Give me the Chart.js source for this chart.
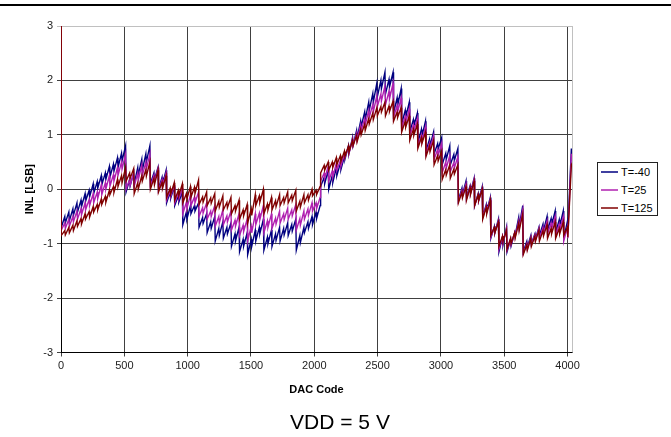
<!DOCTYPE html>
<html>
<head>
<meta charset="utf-8">
<script src="https://cdn.jsdelivr.net/npm/chart.js@4.4.1/dist/chart.umd.min.js"></script>
<style>
  html, body { margin: 0; padding: 0; background: #fff; }
  body { width: 671px; height: 437px; position: relative; overflow: hidden; font-family: "Liberation Sans", Arial, sans-serif; }
  #topline { position: absolute; left: 0; top: 4px; width: 671px; height: 2px; background: #000; }
  #wrap { position: absolute; left: 0; top: 0; width: 671px; height: 437px; }
  #legend { position: absolute; left: 597px; top: 162px; width: 61px; height: 54px; border: 1px solid #222; box-sizing: border-box; background: #fff; }
  .item { position: absolute; left: 3px; height: 14px; font-size: 11px; line-height: 14px; color: #000; white-space: nowrap; }
  .item span.sw { display: inline-block; width: 17px; height: 0; border-top: 2px solid; vertical-align: middle; margin-right: 3px; position: relative; top: -1px; opacity: 0.75; }
  #vdd { position: absolute; left: 0; width: 680px; top: 410px; text-align: center; font-size: 21px; color: #000; }
</style>
</head>
<body>
<div id="topline"></div>
<div id="wrap"><canvas id="c" width="671" height="437"></canvas></div>
<div id="legend"></div>
<div id="vdd">VDD = 5 V</div>
<script>
// ---- data ----
const seriesNames = ['T=-40', 'T=25', 'T=125'];
const startValue = [3.2, 3.2, 3.2];          // value at code 0 (spike off the top)
// each 64-code tooth: lo at its start, a small sub-tooth (midHi then midLo) in its middle, hi at its end
const toothStart = [0,64,128,192,256,320,384,448,512,576,640,704,768,832,896,960,1024,1088,1152,1216,1280,1344,1408,1472,1536,1600,1664,1728,1792,1856,1920,1984,2048,2112,2176,2240,2304,2368,2432,2496,2560,2624,2688,2752,2816,2880,2944,3008,3072,3136,3200,3264,3328,3392,3456,3520,3584,3648,3712,3776,3840,3904,3968,4032];
const xTicks = [0,500,1000,1500,2000,2500,3000,3500,4000];
const yTicks = [-3,-2,-1,0,1,2,3];

const blueLo = [-0.70,-0.58,-0.42,-0.22,-0.08,0.08,0.22,0.40, -0.05,0.10,0.35,0.10,0.00,-0.25,-0.30,-0.65, -0.45,-0.70,-0.80,-0.95,-0.90,-1.05,-1.15,-1.20,-0.95,-1.12,-1.05,-0.95,-0.85,-1.12,-0.80,-0.65, 0.05,0.00,0.25,0.55,0.80,1.15,1.45,1.70, 1.75,1.40,1.20,1.05,0.85,0.70,0.65,0.45, 0.45,-0.20,-0.15,-0.30,-0.50,-0.90,-1.15,-1.15, -0.85,-1.15,-1.00,-0.85,-0.75,-0.80,-0.90,0.60];
const blueMidHi = [-0.50,-0.36,-0.20,-0.02,0.14,0.30,0.46,0.66, 0.18,0.40,0.65,0.30,0.22,-0.05,-0.12,-0.42, -0.30,-0.52,-0.60,-0.72,-0.70,-0.82,-0.92,-0.92,-0.70,-0.88,-0.82,-0.72,-0.65,-0.85,-0.60,-0.42, 0.22,0.25,0.48,0.80,1.08,1.42,1.76,2.00, 2.02,1.68,1.45,1.28,1.10,0.92,0.84,0.66, 0.64,0.02,0.06,-0.08,-0.28,-0.68,-0.88,-0.92, -0.52,-0.96,-0.82,-0.64,-0.54,-0.56,-0.60,0.75];
const blueMidLo = [-0.62,-0.48,-0.32,-0.14,0.02,0.18,0.33,0.52, 0.06,0.26,0.50,0.18,0.10,-0.17,-0.24,-0.55, -0.40,-0.63,-0.72,-0.85,-0.82,-0.95,-1.05,-1.05,-0.82,-1.00,-0.94,-0.84,-0.77,-0.98,-0.72,-0.54, 0.10,0.12,0.36,0.66,0.94,1.28,1.60,1.85, 1.88,1.54,1.32,1.16,0.97,0.80,0.74,0.55, 0.53,-0.10,-0.06,-0.20,-0.40,-0.80,-1.02,-1.04, -0.68,-1.07,-0.92,-0.76,-0.66,-0.68,-0.75,0.65];
const blueHi = [-0.42,-0.25,-0.08,0.10,0.25,0.42,0.58,0.80, 0.30,0.55,0.80,0.40,0.35,0.05,-0.05,-0.30, -0.25,-0.45,-0.50,-0.60,-0.62,-0.70,-0.80,-0.75,-0.55,-0.75,-0.70,-0.62,-0.55,-0.70,-0.50,-0.30, 0.35,0.40,0.60,0.95,1.25,1.60,1.95,2.15, 2.15,1.85,1.60,1.40,1.25,1.05,0.95,0.80, 0.75,0.15,0.20,0.05,-0.15,-0.55,-0.70,-0.80, -0.30,-0.85,-0.70,-0.50,-0.40,-0.40,0.75,0.90];

const purpleLo = [-0.75,-0.68,-0.55,-0.38,-0.25,-0.10,0.05,0.25, 0.00,0.05,0.25,0.05,-0.02,-0.20,-0.25,-0.45, -0.30,-0.50,-0.55,-0.68,-0.65,-0.75,-0.85,-0.95,-0.65,-0.80,-0.72,-0.62,-0.55,-0.75,-0.55,-0.40, 0.15,0.15,0.35,0.58,0.80,1.08,1.32,1.52, 1.55,1.32,1.12,0.98,0.80,0.65,0.55,0.30, 0.32,-0.22,-0.18,-0.30,-0.52,-0.88,-1.10,-1.12, -0.88,-1.18,-1.02,-0.90,-0.82,-0.85,-0.95,0.55];
const purpleMidHi = [-0.62,-0.50,-0.36,-0.19,-0.05,0.12,0.27,0.50, 0.18,0.30,0.50,0.26,0.18,-0.02,-0.07,-0.24, -0.14,-0.34,-0.40,-0.50,-0.49,-0.57,-0.66,-0.68,-0.44,-0.58,-0.53,-0.45,-0.38,-0.54,-0.36,-0.25, 0.30,0.34,0.53,0.78,1.03,1.30,1.56,1.75, 1.80,1.54,1.34,1.18,1.00,0.85,0.73,0.50, 0.49,-0.02,0.04,-0.10,-0.31,-0.70,-0.87,-0.92, -0.58,-1.00,-0.84,-0.70,-0.62,-0.64,-0.70,0.72];
const purpleMidLo = [-0.72,-0.60,-0.47,-0.30,-0.17,0.00,0.15,0.37, 0.07,0.17,0.37,0.14,0.06,-0.13,-0.18,-0.36, -0.25,-0.44,-0.50,-0.62,-0.60,-0.68,-0.78,-0.80,-0.56,-0.70,-0.64,-0.56,-0.49,-0.66,-0.48,-0.36, 0.20,0.22,0.42,0.66,0.90,1.18,1.42,1.62, 1.66,1.42,1.22,1.07,0.88,0.74,0.62,0.39, 0.39,-0.13,-0.08,-0.21,-0.42,-0.80,-0.99,-1.02, -0.72,-1.10,-0.94,-0.81,-0.73,-0.75,-0.90,0.62];
const purpleHi = [-0.55,-0.40,-0.25,-0.08,0.08,0.25,0.40,0.65, 0.30,0.45,0.65,0.38,0.30,0.08,0.02,-0.10, -0.05,-0.25,-0.30,-0.38,-0.40,-0.45,-0.55,-0.45,-0.30,-0.45,-0.40,-0.35,-0.28,-0.40,-0.25,-0.15, 0.42,0.48,0.65,0.92,1.18,1.45,1.72,1.90, 1.95,1.68,1.48,1.30,1.15,0.98,0.85,0.62, 0.60,0.10,0.18,0.02,-0.18,-0.58,-0.72,-0.80, -0.38,-0.88,-0.72,-0.58,-0.50,-0.50,0.65,0.85];

const redLo = [-0.85,-0.80,-0.68,-0.55,-0.42,-0.28,-0.10,0.05, 0.15,-0.08,0.15,0.00,-0.05,-0.15,-0.20,-0.25, -0.15,-0.28,-0.30,-0.40,-0.38,-0.45,-0.55,-0.62,-0.30,-0.45,-0.38,-0.30,-0.25,-0.40,-0.25,-0.12, 0.30,0.35,0.45,0.60,0.80,1.00,1.20,1.35, 1.35,1.25,1.05,0.90,0.75,0.60,0.45,0.18, 0.20,-0.25,-0.20,-0.30,-0.55,-0.85,-1.05,-1.10, -0.90,-1.20,-1.05,-0.95,-0.90,-0.90,-0.85,0.45];
const redMidHi = [-0.76,-0.66,-0.54,-0.41,-0.28,-0.13,0.05,0.25, 0.30,0.12,0.36,0.20,0.13,0.02,-0.02,-0.08, 0.04,-0.14,-0.16,-0.22,-0.24,-0.30,-0.38,-0.36,-0.12,-0.27,-0.21,-0.15,-0.11,-0.22,-0.10,-0.02, 0.44,0.50,0.62,0.80,0.99,1.20,1.40,1.52, 1.53,1.42,1.25,1.10,0.95,0.80,0.62,0.36, 0.37,-0.05,0.03,-0.10,-0.33,-0.70,-0.86,-0.90, -0.62,-1.02,-0.86,-0.76,-0.72,-0.72,-0.70,0.60];
const redMidLo = [-0.84,-0.76,-0.64,-0.51,-0.38,-0.24,-0.06,0.12, 0.20,0.00,0.24,0.08,0.02,-0.09,-0.12,-0.18, -0.08,-0.24,-0.26,-0.33,-0.34,-0.40,-0.49,-0.48,-0.24,-0.38,-0.32,-0.25,-0.21,-0.33,-0.20,-0.10, 0.35,0.40,0.51,0.68,0.87,1.08,1.28,1.42, 1.43,1.32,1.14,0.99,0.84,0.69,0.52,0.26, 0.28,-0.16,-0.09,-0.21,-0.45,-0.80,-0.96,-1.00, -0.76,-1.12,-0.96,-0.86,-0.82,-0.82,-0.88,0.52];
const redHi = [-0.70,-0.58,-0.45,-0.32,-0.18,-0.02,0.18,0.40, 0.38,0.25,0.50,0.35,0.25,0.12,0.10,0.05, 0.17,-0.05,-0.08,-0.12,-0.15,-0.20,-0.28,-0.10,0.00,-0.15,-0.10,-0.05,-0.02,-0.10,0.00,0.05, 0.50,0.58,0.70,0.90,1.10,1.30,1.50,1.60, 1.62,1.50,1.35,1.20,1.05,0.90,0.70,0.45, 0.45,0.05,0.15,0.00,-0.20,-0.60,-0.75,-0.80, -0.45,-0.90,-0.75,-0.65,-0.60,-0.60,0.45,0.70];

// ---- build point lists from the arrays ----
function build(first, lo, mh, ml, hi) {
  const pts = [{x: 0, y: first}];
  for (let k = 0; k < toothStart.length; k++) {
    const s = toothStart[k];
    pts.push({x: s + 2, y: lo[k]});
    pts.push({x: s + 30, y: mh[k]});
    pts.push({x: s + 34, y: ml[k]});
    pts.push({x: s + 62, y: hi[k]});
  }
  return pts;
}
const colors = ['#000080', '#b020b0', '#800000'];
const datasets = [
  {label: seriesNames[0], data: build(startValue[0], blueLo, blueMidHi, blueMidLo, blueHi), borderColor: colors[0], order: 3},
  {label: seriesNames[1], data: build(startValue[1], purpleLo, purpleMidHi, purpleMidLo, purpleHi), borderColor: colors[1], order: 2},
  {label: seriesNames[2], data: build(startValue[2], redLo, redMidHi, redMidLo, redHi), borderColor: colors[2], order: 1}
].map(d => Object.assign(d, {showLine: true, pointRadius: 0, borderWidth: 1.4, tension: 0, fill: false}));

const FONT = '"Liberation Sans", Arial, sans-serif';
const borderPlugin = {
  id: 'plotBorder',
  afterDraw(chart) {
    const {ctx, chartArea: a} = chart;
    ctx.save();
    ctx.strokeStyle = '#c0c0c0';
    ctx.lineWidth = 1;
    ctx.beginPath();
    ctx.moveTo(Math.round(a.right) + 0.5, a.top);
    ctx.lineTo(Math.round(a.right) + 0.5, a.bottom);
    ctx.stroke();
    ctx.restore();
  }
};

new Chart(document.getElementById('c'), {
  type: 'scatter',
  data: {datasets},
  plugins: [borderPlugin],
  options: {
    responsive: false,
    animation: false,
    layout: {padding: {left: 0, right: 99, top: 26, bottom: 0}},
    plugins: {legend: {display: false}, tooltip: {enabled: false}},
    scales: {
      x: {
        type: 'linear', min: 0, max: 4035,
        afterBuildTicks: s => { s.ticks = xTicks.map(v => ({value: v})); },
        afterFit: s => { s.height = 84.5; },
        grid: {color: '#404040', lineWidth: 1, tickLength: 4},
        border: {color: '#000', width: 1},
        ticks: {font: {family: FONT, size: 11}, color: '#222', padding: 3, maxRotation: 0, callback: v => String(v)},
        title: {display: true, text: 'DAC Code', font: {family: FONT, size: 11, weight: 'bold'}, color: '#000', padding: {top: 0, bottom: 40}}
      },
      y: {
        type: 'linear', min: -3, max: 3,
        afterBuildTicks: s => { s.ticks = yTicks.map(v => ({value: v})); },
        afterFit: s => { s.width = 61; },
        grid: {color: c => (c.tick && c.tick.value === 3) ? '#c0c0c0' : '#404040', lineWidth: 1, tickLength: 4},
        border: {color: '#000', width: 1},
        ticks: {font: {family: FONT, size: 11}, color: '#222', padding: 4, callback: v => String(v)},
        title: {display: true, text: 'INL [LSB]', font: {family: FONT, size: 11, weight: 'bold'}, color: '#000', padding: {top: 23, bottom: 0}}
      }
    }
  }
});

// legend (HTML, built from the series names and colours)
const lg = document.getElementById('legend');
seriesNames.forEach((n, i) => {
  const d = document.createElement('div');
  d.className = 'item';
  d.style.top = (2 + i * 18) + 'px';
  d.innerHTML = '<span class="sw" style="border-top-color:' + colors[i] + '"></span>' + n;
  lg.appendChild(d);
});
</script>
</body>
</html>
